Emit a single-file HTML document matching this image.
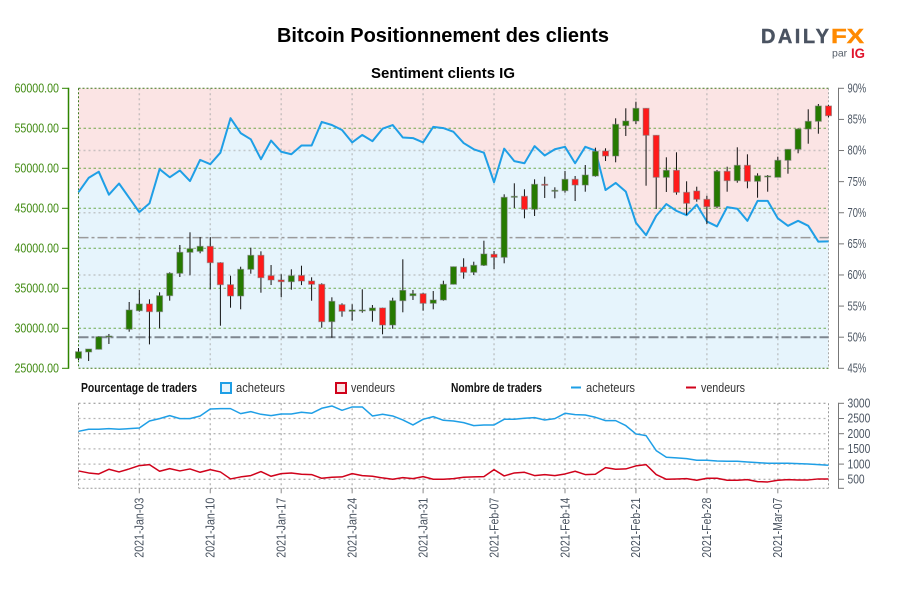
<!DOCTYPE html>
<html lang="fr">
<head>
<meta charset="utf-8">
<title>Bitcoin Positionnement des clients</title>
<style>
html,body{margin:0;padding:0;background:#fff;width:900px;height:600px;overflow:hidden}
svg{display:block}
text{font-family:"Liberation Sans Narrow","Liberation Sans",sans-serif}
.hd{font-family:"Liberation Sans",sans-serif;font-weight:bold;fill:#000}
</style>
</head>
<body>
<svg id="chart" xmlns="http://www.w3.org/2000/svg" width="900" height="600" viewBox="0 0 900 600">
  <rect x="0" y="0" width="900" height="600" fill="#fff"/>
  <text class="hd" x="277" y="42" font-size="20" textLength="332" lengthAdjust="spacingAndGlyphs">Bitcoin Positionnement des clients</text>
  <text class="hd" x="371" y="78" font-size="15" textLength="144" lengthAdjust="spacingAndGlyphs">Sentiment clients IG</text>

  <g>
    <text x="761" y="43" font-size="20" font-weight="bold" fill="#4a5361" stroke="#4a5361" stroke-width="0.4" style='font-family:"Liberation Sans",sans-serif' textLength="68" lengthAdjust="spacing">DAILY</text>
    <text x="831" y="43" font-size="20" font-weight="bold" fill="#ff8a00" stroke="#ff8a00" stroke-width="0.4" style='font-family:"Liberation Sans",sans-serif' textLength="33" lengthAdjust="spacingAndGlyphs">FX</text>
    <text x="832" y="56.5" font-size="10.5" fill="#555d68" style='font-family:"Liberation Sans",sans-serif'>par</text>
    <text x="851" y="58" font-size="14" font-weight="bold" fill="#e0142c" style='font-family:"Liberation Sans",sans-serif' textLength="14" lengthAdjust="spacingAndGlyphs">IG</text>
  </g>

  <g>
    <text x="81" y="392" font-size="13" font-weight="bold" fill="#111" textLength="116" lengthAdjust="spacingAndGlyphs">Pourcentage de traders</text>
    <rect x="221" y="383" width="10" height="10" fill="#e6f4fc" stroke="#1e9fe6" stroke-width="2"/>
    <text x="236" y="392" font-size="13" fill="#333" textLength="49" lengthAdjust="spacingAndGlyphs">acheteurs</text>
    <rect x="336" y="383" width="10" height="10" fill="#fbe4e4" stroke="#d0021b" stroke-width="2"/>
    <text x="351" y="392" font-size="13" fill="#333" textLength="44" lengthAdjust="spacingAndGlyphs">vendeurs</text>
    <text x="451" y="392" font-size="13" font-weight="bold" fill="#111" textLength="91" lengthAdjust="spacingAndGlyphs">Nombre de traders</text>
    <line x1="571" x2="581" y1="387.5" y2="387.5" stroke="#1e9fe6" stroke-width="2"/>
    <text x="586" y="392" font-size="13" fill="#333" textLength="49" lengthAdjust="spacingAndGlyphs">acheteurs</text>
    <line x1="686" x2="696" y1="387.5" y2="387.5" stroke="#d0021b" stroke-width="2"/>
    <text x="701" y="392" font-size="13" fill="#333" textLength="44" lengthAdjust="spacingAndGlyphs">vendeurs</text>
  </g>
  <g id="main-panel"></g>
  <g id="count-panel"></g>
</svg>
<script>
const categories = [
"2020-Dec-28","2020-Dec-29","2020-Dec-30","2020-Dec-31","2021-Jan-01","2021-Jan-02","2021-Jan-03","2021-Jan-04","2021-Jan-05","2021-Jan-06","2021-Jan-07","2021-Jan-08","2021-Jan-09","2021-Jan-10","2021-Jan-11",
"2021-Jan-12","2021-Jan-13","2021-Jan-14","2021-Jan-15","2021-Jan-16","2021-Jan-17","2021-Jan-18","2021-Jan-19","2021-Jan-20","2021-Jan-21","2021-Jan-22","2021-Jan-23","2021-Jan-24","2021-Jan-25","2021-Jan-26",
"2021-Jan-27","2021-Jan-28","2021-Jan-29","2021-Jan-30","2021-Jan-31","2021-Feb-01","2021-Feb-02","2021-Feb-03","2021-Feb-04","2021-Feb-05","2021-Feb-06","2021-Feb-07","2021-Feb-08","2021-Feb-09","2021-Feb-10",
"2021-Feb-11","2021-Feb-12","2021-Feb-13","2021-Feb-14","2021-Feb-15","2021-Feb-16","2021-Feb-17","2021-Feb-18","2021-Feb-19","2021-Feb-20","2021-Feb-21","2021-Feb-22","2021-Feb-23","2021-Feb-24","2021-Feb-25",
"2021-Feb-26","2021-Feb-27","2021-Feb-28","2021-Mar-01","2021-Mar-02","2021-Mar-03","2021-Mar-04","2021-Mar-05","2021-Mar-06","2021-Mar-07","2021-Mar-08","2021-Mar-09","2021-Mar-10","2021-Mar-11","2021-Mar-12"];
const dateTicks = ["2021-Jan-03","2021-Jan-10","2021-Jan-17","2021-Jan-24","2021-Jan-31","2021-Feb-07","2021-Feb-14","2021-Feb-21","2021-Feb-28","2021-Mar-07"];
const priceTicks = [60000,55000,50000,45000,40000,35000,30000,25000];
const percentTicks = [90,85,80,75,70,65,60,55,50,45];
const percentGrid = [80,70,60];
const percentRefs = [66,50];
const countTicks = [3000,2500,2000,1500,1000,500];

const opens = [26250,27040,27375,28920,null,29875,32200,33040,32075,34075,36875,39500,39625,40250,38200,35450,34040,37375,39125,36575,36040,35825,36600,35910,35500,30825,32950,32125,32200,32200,32540,30410,33450,34075,34325,33125,33540,35500,37660,37000,37875,39250,38875,46410,46500,44875,48000,47125,47200,48625,47910,49040,52160,51540,55325,55910,57500,54125,48875,49750,47000,47160,46125,45200,49625,48450,50375,48375,48950,48875,51000,52375,54910,55875,57790];
const highs = [27540,27410,29000,29290,null,33290,34790,33625,34500,37000,40410,42000,41410,41410,38250,36575,37700,40075,39625,37910,36750,37375,37825,36375,35625,33875,33125,33000,34875,32910,32575,33825,38625,34790,34450,34660,35950,37700,38750,38325,40950,39660,46750,48125,47375,48625,48950,47625,49660,49040,50410,52575,52500,56250,57500,58325,57500,54125,51375,52000,48375,47700,46575,49790,50200,52625,51750,49375,49160,51450,52375,55000,57375,58040,57910];
const lows = [26040,25910,27375,28040,null,29575,32075,27990,30000,33450,36410,36625,39375,34875,30325,32575,32375,36825,34450,35410,33875,34825,35400,33450,30075,28825,31450,30950,31950,30825,29250,29950,32000,33540,32200,32375,33450,35500,36200,36660,37790,37410,38125,45040,43750,44040,46290,46250,46950,45910,47075,48950,50910,50750,54040,55540,47825,44910,47040,46700,44160,45825,43040,45000,47075,48200,47500,46325,47075,48875,49325,51875,53075,54325,56375];
const closes = [27075,27410,28950,29040,null,32290,33040,32075,34075,36875,39500,39950,40250,38200,35450,34040,37375,39125,36325,36040,35825,36575,35910,35500,30825,33375,32125,32290,32290,32540,30410,33450,34750,34325,33125,33540,35500,37700,37000,37875,39290,38875,46375,46500,44875,48000,47875,47250,48625,47910,49160,52125,51540,55500,55910,57500,54125,48875,49750,47000,45625,46125,45200,49625,48450,50375,48375,49075,49040,51000,52375,54910,55875,57790,56575];

const buyerPercent = [73.3,75.6,76.6,72.9,74.7,72.4,70.1,71.5,77.0,75.7,76.8,75.1,78.5,77.8,79.65,85.2,82.8,81.8,78.6,81.6,79.8,79.4,80.8,80.8,84.6,84.1,83.3,81.3,82.5,81.5,83.5,84.1,82.1,82.0,81.3,83.8,83.6,83.0,81.2,80.2,79.65,74.9,80.3,78.3,77.95,80.7,79.2,80.2,80.6,77.95,80.6,80.0,73.65,74.8,73.4,68.4,66.4,69.5,71.4,70.3,69.6,71.3,68.6,67.8,70.9,70.65,68.7,71.9,71.9,69.1,67.9,68.7,67.9,65.35,65.4];
const buyerCounts = [2079,2145,2145,2167,2145,2167,2189,2419,2496,2594,2496,2496,2583,2814,2825,2825,2660,2726,2638,2594,2649,2649,2704,2671,2836,2912,2770,2880,2880,2583,2638,2583,2452,2288,2474,2562,2441,2419,2364,2266,2288,2288,2474,2474,2507,2529,2452,2496,2671,2627,2616,2540,2430,2430,2266,1992,1937,1444,1224,1203,1181,1126,1126,1104,1093,1093,1071,1049,1027,1027,1027,1016,1005,983,961];
const sellerCounts = [775,709,676,830,742,841,951,983,764,852,775,841,731,819,742,512,578,622,753,600,687,709,665,655,534,567,578,687,622,600,545,501,556,523,589,501,501,523,567,578,589,819,611,709,731,622,655,622,676,764,655,665,885,830,841,940,983,655,501,512,523,468,534,534,468,468,490,424,413,468,490,479,479,512,512];

const SVGNS = "http://www.w3.org/2000/svg";
const plotL = 78.5, plotR = 828.5, mainT = 88.3, mainB = 368.3, subT = 403.3, subB = 488.3;
function xScale(i){ return plotL + (plotR - plotL) * i / (categories.length - 1); }
function priceY(v){ return mainB - (v - 25000) / 35000 * (mainB - mainT); }
function pctY(v){ return mainB - (v - 45) / 45 * (mainB - mainT); }
function countY(v){ return subT + (3000 - v) * 0.0304; }
function make(tag, attrs, parent){
  const el = document.createElementNS(SVGNS, tag);
  for (const k in attrs) el.setAttribute(k, attrs[k]);
  parent.appendChild(el);
  return el;
}
const main = document.getElementById("main-panel");
const sub = document.getElementById("count-panel");

/* background */
const bgSell = make("rect", {x:plotL, y:mainT, width:plotR-plotL, height:mainB-mainT, fill:"#fbe4e4"}, main);


const pctPts = buyerPercent.map((v,i)=>xScale(i).toFixed(2)+","+pctY(v).toFixed(2));
const area = make("polygon", {points:plotL+","+mainB+" "+pctPts.join(" ")+" "+plotR+","+mainB, fill:"#e6f4fc"}, main);



/* percent grid + date verticals */
percentGrid.forEach(p=>{
  const g = make("line", {x1:plotL,x2:plotR,y1:pctY(p),y2:pctY(p),stroke:"#a9a9a9","stroke-opacity":0.6,"stroke-width":1.5,"stroke-dasharray":"2 3"}, main);
  
  
});
dateTicks.forEach(d=>{
  const x = xScale(categories.indexOf(d));
  const g = make("line", {x1:x,x2:x,y1:mainT,y2:mainB,stroke:"#a9a9a9","stroke-opacity":0.6,"stroke-width":1.5,"stroke-dasharray":"2 3"}, main);
  
  
});
/* price grid */
priceTicks.forEach(p=>{
  const edge = (p===60000||p===25000);
  const g = make("line", {x1:plotL,x2:plotR,y1:priceY(p),y2:priceY(p),stroke:edge?"#3f7a1f":"#5aa032","stroke-opacity":edge?1:0.85,"stroke-width":1,"stroke-dasharray":edge?"2 2":"2.5 2.5"}, main);
  
  
});
const leftEdge = make("line", {x1:plotL,x2:plotL,y1:mainT,y2:mainB,stroke:"#3f7a1f","stroke-width":1,"stroke-dasharray":"2 2"}, main);


const rightEdge = make("line", {x1:plotR,x2:plotR,y1:mainT,y2:mainB,stroke:"#a9a9a9","stroke-width":1,"stroke-dasharray":"2 2"}, main);


/* reference dash-dot lines */
percentRefs.forEach((p,i)=>{
  const g = make("line", {x1:plotL,x2:plotR,y1:pctY(p),y2:pctY(p),stroke:i?"#7f8790":"#9a9a9a","stroke-width":i?2:1.5,"stroke-dasharray":"10 3 3 3"}, main);
  
  
});
/* sentiment line */
const sent = make("polyline", {points:pctPts.join(" "),fill:"none",stroke:"#1f9fe6","stroke-width":2,"stroke-linejoin":"round"}, main);



/* candles */
opens.forEach((o,i)=>{
  if (o === null) return;
  const c = closes[i], x = xScale(i), up = c >= o;
  const wick = make("line", {x1:x,x2:x,y1:priceY(highs[i]),y2:priceY(lows[i]),stroke:"#111","stroke-width":1}, main);
  
  
  const top = priceY(Math.max(o,c)), bot = priceY(Math.min(o,c));
  const body = make("rect", {x:x-3,y:top,width:6,height:Math.max(bot-top,1),fill:up?"#267a00":"#ff1a1a",stroke:"#777","stroke-opacity":0.55,"stroke-width":1}, main);
  
  
});

/* left axis */
const leftAxis = make("line", {x1:68.5,x2:68.5,y1:mainT-0.5,y2:mainB+0.5,stroke:"#2f8500","stroke-width":1.5}, main);


priceTicks.forEach(p=>{
  const y = priceY(p);
  const t = make("line", {x1:62,x2:68.5,y1:y,y2:y,stroke:"#2f8500","stroke-width":1}, main);
  
  
  const l = make("text", {x:14.5,y:y+4.4,"font-size":13,fill:"#3f8a10",textLength:44.5,lengthAdjust:"spacingAndGlyphs"}, main);
  l.textContent = p.toFixed(2);
  
  
});
/* right axis */
const rightAxis = make("line", {x1:838.5,x2:838.5,y1:mainT-0.5,y2:mainB+0.5,stroke:"#777","stroke-width":1}, main);


percentTicks.forEach(p=>{
  const y = pctY(p);
  const t = make("line", {x1:838.5,x2:844,y1:y,y2:y,stroke:"#777","stroke-width":1}, main);
  
  
  const l = make("text", {x:847.5,y:y+4.2,"font-size":13,fill:"#4a5461",textLength:18.7,lengthAdjust:"spacingAndGlyphs"}, main);
  l.textContent = p + "%";
  
  
});

/* lower panel grid */
countTicks.forEach(v=>{
  const y = countY(v);
  const g = make("line", {x1:plotL,x2:plotR,y1:y,y2:y,stroke:v===3000?"#8a8a8a":"#b5b5b5","stroke-width":v===3000?1:1.3,"stroke-dasharray":"2 3"}, sub);
  
  
  const t = make("line", {x1:838.5,x2:844,y1:y,y2:y,stroke:"#777","stroke-width":1}, sub);
  
  
  const s = String(v);
  const l = make("text", {x:847.5,y:y+4.2,"font-size":13,fill:"#4a5461",textLength:s.length*5.7,lengthAdjust:"spacingAndGlyphs"}, sub);
  l.textContent = s;
  
  
});
const subBottom = make("line", {x1:plotL,x2:plotR,y1:subB,y2:subB,stroke:"#9a9a9a","stroke-width":1,"stroke-dasharray":"2 2"}, sub);


const subLeft = make("line", {x1:plotL,x2:plotL,y1:subT,y2:subB,stroke:"#9a9a9a","stroke-width":1,"stroke-dasharray":"2 2"}, sub);


const subRight = make("line", {x1:plotR,x2:plotR,y1:subT,y2:subB,stroke:"#9a9a9a","stroke-width":1,"stroke-dasharray":"2 2"}, sub);


const subAxis = make("line", {x1:838.5,x2:838.5,y1:subT-0.5,y2:subB+0.5,stroke:"#777","stroke-width":1}, sub);


const subAxisEnd = make("line", {x1:838.5,x2:844,y1:subB,y2:subB,stroke:"#777","stroke-width":1}, sub);



dateTicks.forEach(d=>{
  const x = xScale(categories.indexOf(d));
  const g = make("line", {x1:x,x2:x,y1:subT,y2:subB,stroke:"#b5b5b5","stroke-width":1.3,"stroke-dasharray":"2 3"}, sub);
  
  
  const t = make("line", {x1:x,x2:x,y1:subB,y2:subB+5,stroke:"#888","stroke-width":1}, sub);
  
  
  const l = make("text", {transform:"translate("+(x+4.3)+",557.7) rotate(-90)",x:0,y:0,"font-size":13,fill:"#4a5461",textLength:60,lengthAdjust:"spacingAndGlyphs"}, sub);
  l.textContent = d;
  
  
});

const buyLine = make("polyline", {points:buyerCounts.map((v,i)=>xScale(i).toFixed(2)+","+countY(v).toFixed(2)).join(" "),fill:"none",stroke:"#1f9fe6","stroke-width":1.5,"stroke-linejoin":"round"}, sub);


const sellLine = make("polyline", {points:sellerCounts.map((v,i)=>xScale(i).toFixed(2)+","+countY(v).toFixed(2)).join(" "),fill:"none",stroke:"#d0021b","stroke-width":1.5,"stroke-linejoin":"round"}, sub);


</script>
</body>
</html>
